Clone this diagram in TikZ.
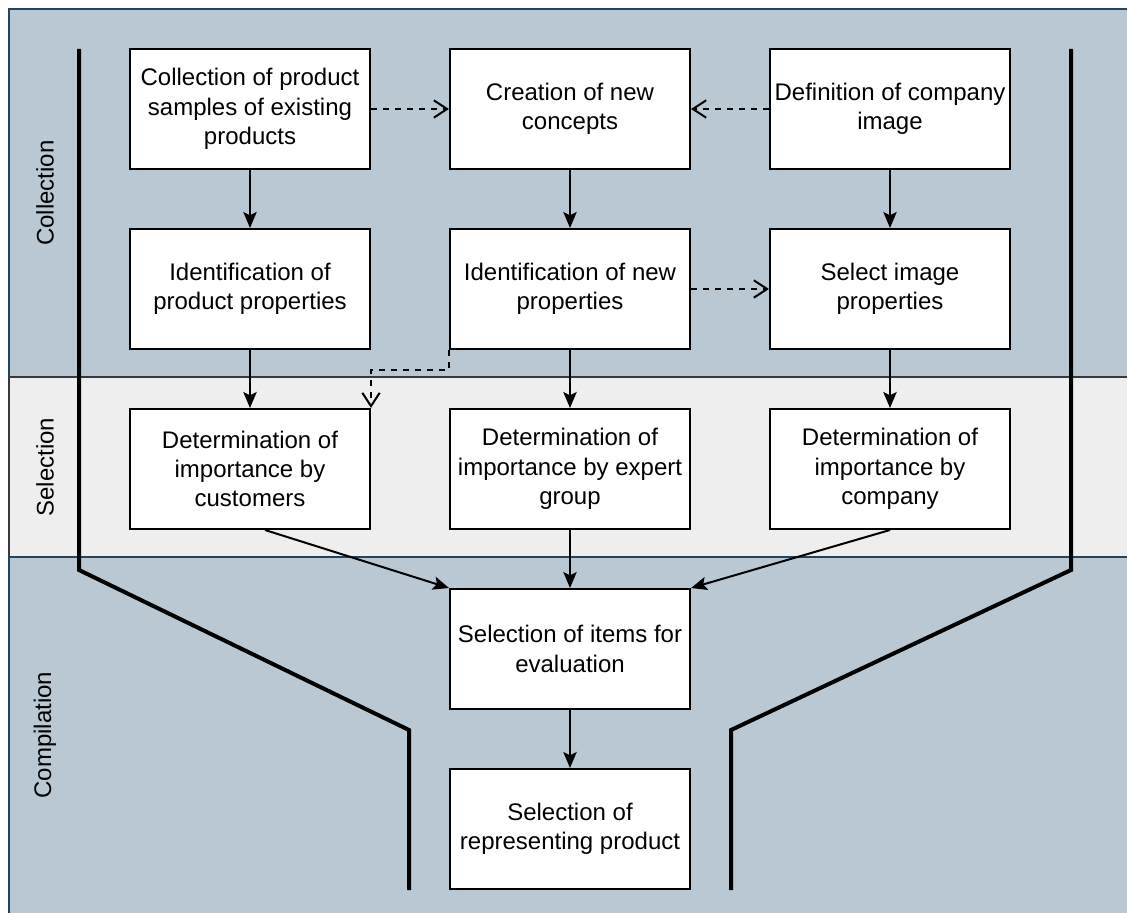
\documentclass[tikz,border=0pt]{standalone}
\usepackage{fontspec}
\setmainfont{Liberation Sans}
\usetikzlibrary{arrows.meta,calc}

\definecolor{laneblue}{HTML}{BAC8D3}
\definecolor{laneblueedge}{HTML}{23445D}
\definecolor{lanegrey}{HTML}{EEEEEE}
\definecolor{lanegreyedge}{HTML}{36393D}

\tikzset{
  stepbox/.style={draw=black, line width=1.5pt, fill=white,
    minimum width=180pt, minimum height=90pt, inner sep=2pt,
    align=center, font=\fontsize{18}{22}\selectfont},
  flow/.style={draw=black, line width=1.5pt,
    -{Stealth[length=12pt,width=10pt,inset=2.5pt]}},
  hint/.style={draw=black, line width=1.5pt, dash pattern=on 4.5pt off 4.5pt,
    -{Straight Barb[length=10pt,width=13pt,line width=1.5pt]}},
  funnel/.style={draw=black, line width=3pt},
  lanelabel/.style={rotate=90, font=\fontsize{18}{22}\selectfont},
}

\begin{document}
\begin{tikzpicture}[x=0.75pt, y=-0.75pt]
  \useasboundingbox (0,0) rectangle (1127,913);
  \clip (0,0) rectangle (1127,913);
  \fill[white] (0,0) rectangle (1127,913);

  % swimlanes
  \filldraw[fill=laneblue, draw=laneblueedge, line width=1.2pt] (9,9) rectangle (1140,377);
  \filldraw[fill=lanegrey, draw=lanegreyedge, line width=1.2pt] (9,377) rectangle (1140,557);
  \filldraw[fill=laneblue, draw=laneblueedge, line width=1.2pt] (9,557) rectangle (1140,930);

  \node[lanelabel] (lcol) at (45,193) {Collection};
  \node[lanelabel] (lsel) at (45,467) {Selection};
  \node[lanelabel] (lcomp) at (45,735) {Compilation};

  % funnel walls
  \draw[funnel] (79,49) -- (79,570) -- (409,730) -- (409,890);
  \draw[funnel] (1071,49) -- (1071,570) -- (731,730) -- (731,890);

  % process steps
  \node[stepbox] (c1) at (250,109) {Collection of product\\samples of existing\\products};
  \node[stepbox] (c2) at (570,109) {Creation of new\\concepts};
  \node[stepbox] (c3) at (890,109) {Definition of company\\image};

  \node[stepbox] (i1) at (250,289) {Identification of\\product properties};
  \node[stepbox] (i2) at (570,289) {Identification of new\\properties};
  \node[stepbox] (i3) at (890,289) {Select image\\properties};

  \node[stepbox] (d1) at (250,469) {Determination of\\importance by\\customers};
  \node[stepbox] (d2) at (570,469) {Determination of\\importance by expert\\group};
  \node[stepbox] (d3) at (890,469) {Determination of\\importance by\\company};

  \node[stepbox] (s1) at (570,649) {Selection of items for\\evaluation};
  \node[stepbox] (s2) at (570,829) {Selection of\\representing product};

  % main flow
  \draw[flow] (c1) -- (i1);
  \draw[flow] (c2) -- (i2);
  \draw[flow] (c3) -- (i3);
  \draw[flow] (i1) -- (d1);
  \draw[flow] (i2) -- (d2);
  \draw[flow] (i3) -- (d3);
  \draw[flow] ($(d1.south)+(15,0)$) -- (s1.north west);
  \draw[flow] (d2) -- (s1);
  \draw[flow] (d3.south) -- (s1.north east);
  \draw[flow] (s1) -- (s2);

  % supporting relations
  \draw[hint] (c1.east) -- (c2.west);
  \draw[hint] (c3.west) -- (c2.east);
  \draw[hint] (i2.east) -- (i3.west);
  \draw[hint] (i2.south west) -- ++(0,20) -| (d1.north east);
\end{tikzpicture}
\end{document}
